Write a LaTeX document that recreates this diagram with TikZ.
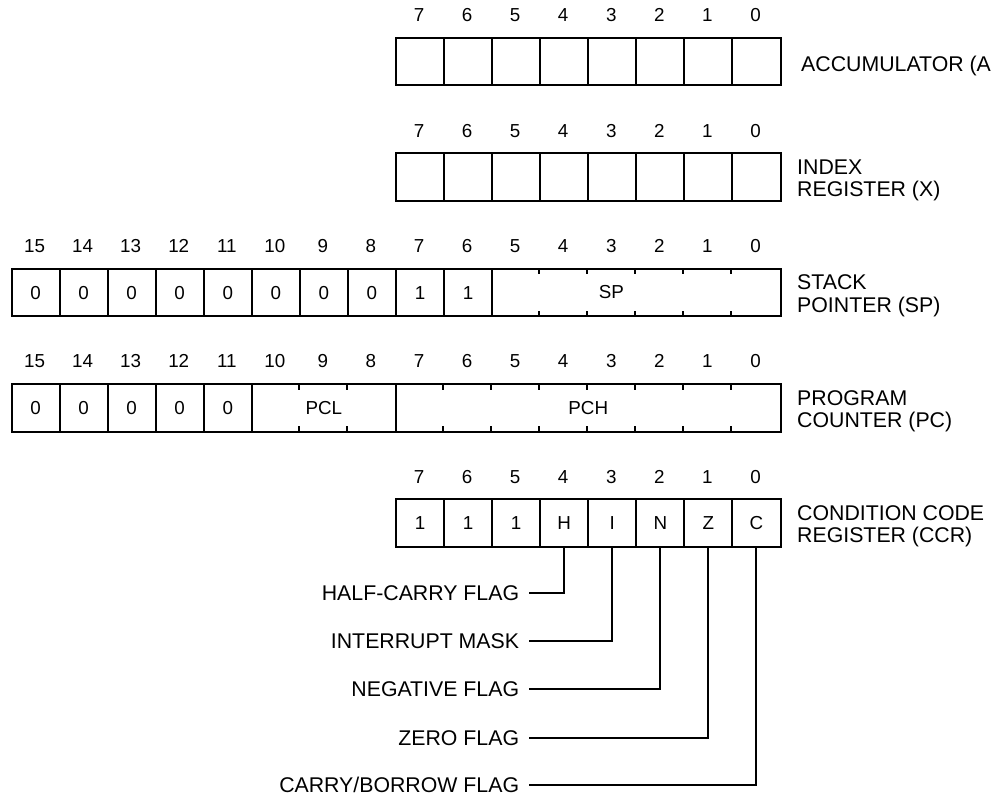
\documentclass[tikz,border=0pt]{standalone}
\usepackage{fontspec}
\setmainfont{Liberation Sans}
\newcommand\digfont{\fontsize{18.8}{20}\selectfont}
\newcommand\lblfont{\fontsize{21.3}{22.3}\selectfont}
\begin{document}
\begin{tikzpicture}[x=1pt,y=-1pt,
  reg/.style={draw, line width=2pt, inner sep=0pt, minimum height=47.5pt,
    text height=13.4pt, text depth=0pt, font=\digfont, anchor=north west},
  cell/.style={reg, minimum width=48.0625pt},
  bitnum/.style={font=\digfont, anchor=base, inner sep=0pt},
  celltext/.style={font=\digfont, inner sep=0pt, text height=13.4pt, text depth=0pt},
  reglabel/.style={font=\lblfont, align=left, anchor=west, inner sep=0pt},
  flaglabel/.style={font=\lblfont, anchor=east, inner sep=0pt, text height=15.2pt, text depth=0pt},
  tickline/.style={line width=2pt},
  lead/.style={line width=2pt}]
\useasboundingbox (0,0) rectangle (1006,798);

% ---------- Accumulator ----------
\foreach \b [count=\i from 0] in {7,...,0} {
  \node[bitnum] (accn\b) at ({395+(\i+0.5)*48.0625}, 21.6) {\b};
  \node[cell] (acc\b) at ({395+\i*48.0625}, 36.8) {};
}
\node[reglabel, anchor=base west] (accl) at (801, 71) {ACCUMULATOR (A};

% ---------- Index register ----------
\foreach \b [count=\i from 0] in {7,...,0} {
  \node[bitnum] (idxn\b) at ({395+(\i+0.5)*48.0625}, 137) {\b};
  \node[cell] (idx\b) at ({395+\i*48.0625}, 152.2) {};
}
\node[reglabel] (idxl) at (797, 180.4) {INDEX\\REGISTER (X)};

% ---------- Stack pointer ----------
\foreach \b [count=\i from 0] in {15,...,0} {
  \node[bitnum] (spn\b) at ({10.5+(\i+0.5)*48.0625}, 252.4) {\b};
}
\foreach \b/\v [count=\i from 0] in {15/0,14/0,13/0,12/0,11/0,10/0,9/0,8/0,7/1,6/1} {
  \node[cell] (sp\b) at ({10.5+\i*48.0625}, 267.6) {\v};
}
\node[reg, minimum width=6*48.0625pt] (spf) at ({10.5+10*48.0625}, 267.6) {};
\node[celltext] (spt) at ({10.5+12.5*48.0625}, 291.35) {SP};
\foreach \k in {1,...,5} {
  \draw[tickline] ([xshift=\k*48.0625pt]spf.north west) ++(0,1) -- ++(0,5.5);
  \draw[tickline] ([xshift=\k*48.0625pt]spf.south west) ++(0,-1) -- ++(0,-5.5);
}
\node[reglabel] (spl) at (797, 295.8) {STACK\\POINTER (SP)};

% ---------- Program counter ----------
\foreach \b [count=\i from 0] in {15,...,0} {
  \node[bitnum] (pcn\b) at ({10.5+(\i+0.5)*48.0625}, 367.8) {\b};
}
\foreach \b [count=\i from 0] in {15,...,11} {
  \node[cell] (pc\b) at ({10.5+\i*48.0625}, 383) {0};
}
\node[reg, minimum width=3*48.0625pt] (pcl) at ({10.5+5*48.0625}, 383) {PCL};
\foreach \k in {1,2} {
  \draw[tickline] ([xshift=\k*48.0625pt]pcl.north west) ++(0,1) -- ++(0,5.5);
  \draw[tickline] ([xshift=\k*48.0625pt]pcl.south west) ++(0,-1) -- ++(0,-5.5);
}
\node[reg, minimum width=8*48.0625pt] (pch) at (395, 383) {PCH};
\foreach \k in {1,...,7} {
  \draw[tickline] ([xshift=\k*48.0625pt]pch.north west) ++(0,1) -- ++(0,5.5);
  \draw[tickline] ([xshift=\k*48.0625pt]pch.south west) ++(0,-1) -- ++(0,-5.5);
}
\node[reglabel] (pcll) at (797, 411.2) {PROGRAM\\COUNTER (PC)};

% ---------- Condition code register ----------
\foreach \b/\v [count=\i from 0] in {7/1,6/1,5/1,4/H,3/I,2/N,1/Z,0/C} {
  \node[bitnum] (ccrn\b) at ({395+(\i+0.5)*48.0625}, 483.2) {\b};
  \node[cell] (ccr\b) at ({395+\i*48.0625}, 498.4) {\v};
}
\node[reglabel] (ccrl) at (797, 526.6) {CONDITION CODE\\REGISTER (CCR)};

% ---------- Flag labels ----------
\node[flaglabel] (fH) at (519.3, 593.3) {HALF-CARRY FLAG};
\node[flaglabel] (fI) at (519.3, 641.2) {INTERRUPT MASK};
\node[flaglabel] (fN) at (519.3, 689.3) {NEGATIVE FLAG};
\node[flaglabel] (fZ) at (519.3, 737.5) {ZERO FLAG};
\node[flaglabel] (fC) at (519.3, 785.3) {CARRY/BORROW FLAG};

\draw[lead] (ccr4.south) |- ([xshift=10pt]fH.east);
\draw[lead] (ccr3.south) |- ([xshift=10pt]fI.east);
\draw[lead] (ccr2.south) |- ([xshift=10pt]fN.east);
\draw[lead] (ccr1.south) |- ([xshift=10pt]fZ.east);
\draw[lead] (ccr0.south) |- ([xshift=10pt]fC.east);
\end{tikzpicture}
\end{document}
